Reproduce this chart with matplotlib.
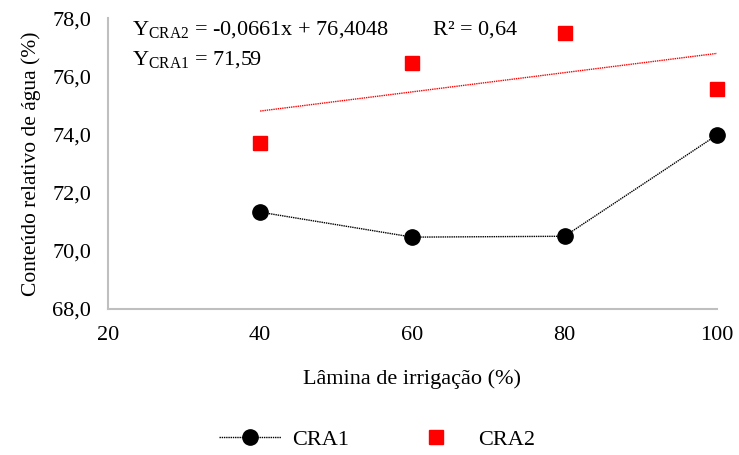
import numpy as np
import matplotlib.pyplot as plt

plt.rcParams['font.family'] = ['Liberation Serif', 'DejaVu Serif']
plt.rcParams['mathtext.fontset'] = 'custom'
plt.rcParams['mathtext.rm'] = 'Liberation Serif'

# data
lamina = [40, 60, 80, 100]
cra1 = [71.33, 70.47, 70.50, 73.98]
cra2 = [73.70, 76.45, 77.48, 75.56]

xticks = [20, 40, 60, 80, 100]
yticks = [68, 70, 72, 74, 76, 78]

fig = plt.figure(figsize=(7.39, 4.55), dpi=100)
ax = fig.add_axes([0.146, 0.321, 0.824, 0.639])

ax.plot(lamina, cra1, color='black', linestyle=(0, (1, 0.6)), linewidth=1.0,
        marker='o', markersize=11, label='CRA1', clip_on=False, zorder=3)
ax.plot(lamina, cra2, color='#ff0000', linestyle='none', marker='s',
        markersize=10, label='CRA2', clip_on=False, zorder=3)

# linear trend of CRA2
coef = np.polyfit(lamina, cra2, 1)
xt = np.array([lamina[0], lamina[-1]])
ax.plot(xt, np.polyval(coef, xt), color='#ff0000', linestyle=(0, (1, 0.6)),
        linewidth=1.0)

ax.set_xlim(20, 100)
ax.set_ylim(68, 78)
ax.set_xticks(xticks)
ax.set_yticks(yticks)
ax.set_yticklabels([f'{v:.1f}'.replace('.', ',') for v in yticks])
ax.tick_params(length=0, labelsize=16)
ax.tick_params(axis='x', pad=12)
ax.tick_params(axis='y', pad=12)
for s in ['top', 'right']:
    ax.spines[s].set_visible(False)
for s in ['left', 'bottom']:
    ax.spines[s].set_color('#bfbfbf')
    ax.spines[s].set_linewidth(1.5)

ax.set_xlabel('Lâmina de irrigação (%)', fontsize=16, labelpad=18)
ax.set_ylabel('Conteúdo relativo de água (%)', fontsize=15.5, labelpad=8)

ax.text(0.04, 0.995, r'Y$_{\mathregular{CRA2}}$ = -0,0661x + 76,4048        R² = 0,64',
        transform=ax.transAxes, fontsize=16, va='top')
ax.text(0.04, 0.89, r'Y$_{\mathregular{CRA1}}$ = 71,59',
        transform=ax.transAxes, fontsize=16, va='top')

fig.legend(loc='center', bbox_to_anchor=(0.51, 0.033), ncol=2, frameon=False,
           fontsize=16, handlelength=2.8, handletextpad=0.5, columnspacing=2.5)

fig.savefig('out.png', dpi=100)
